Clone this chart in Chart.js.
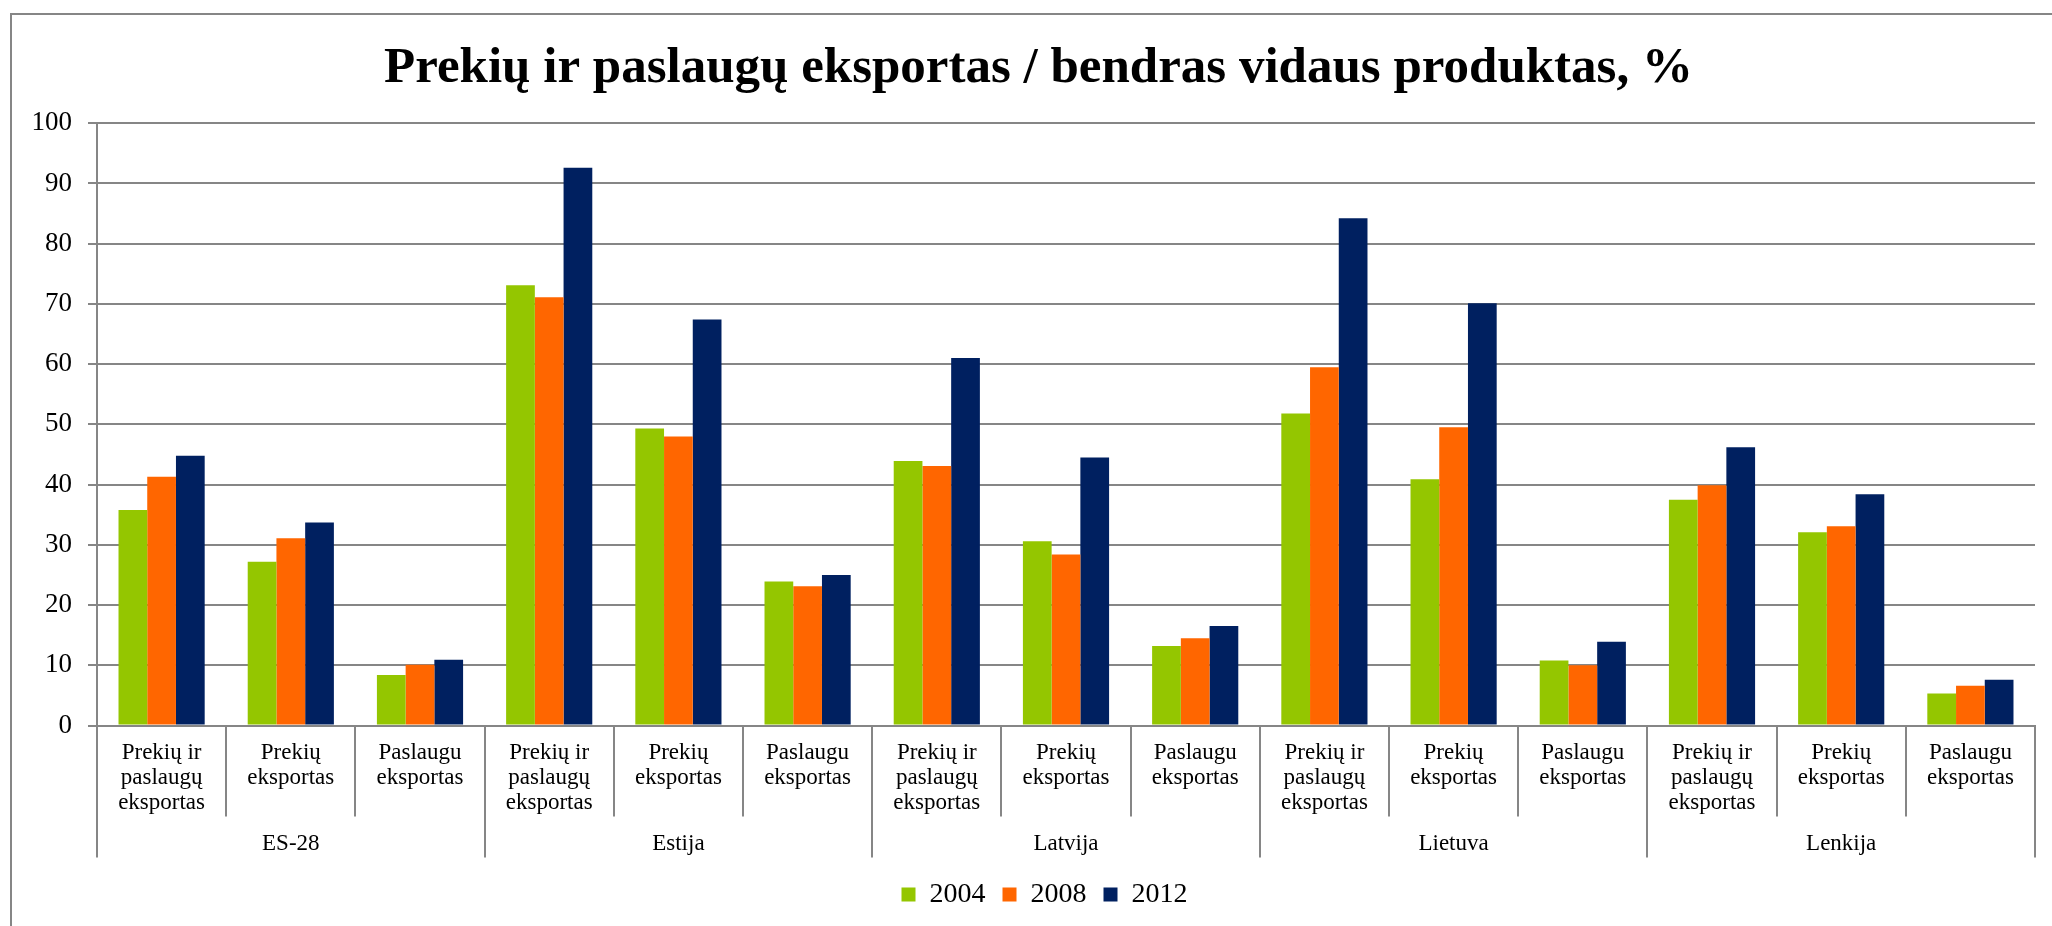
<!DOCTYPE html>
<html>
<head>
<meta charset="utf-8">
<script src="https://cdn.jsdelivr.net/npm/chart.js@4/dist/chart.umd.min.js"></script>
<style>
  html, body { margin: 0; padding: 0; background: #fff; }
  #wrap { position: relative; width: 2052px; height: 926px; }
</style>
</head>
<body>
<div id="wrap"><canvas id="chart"></canvas></div>
<script>
// Duomenys
// ----------------------------------------------------------------------
const groups = ['ES-28', 'Estija', 'Latvija', 'Lietuva', 'Lenkija'];
const subLabels = [
  ['Prekių ir', 'paslaugų', 'eksportas'],
  ['Prekių', 'eksportas'],
  ['Paslaugu', 'eksportas']
];
const years = ['2004', '2008', '2012'];

const v2004 = [35.8, 27.2, 8.4, 73.1, 49.3, 23.9, 43.9, 30.6, 13.2, 51.8, 40.9, 10.8, 37.5, 32.1, 5.3];
const v2008 = [41.3, 31.1, 10.1, 71.1, 48.0, 23.1, 43.1, 28.4, 14.5, 59.5, 49.5, 10.0, 39.9, 33.1, 6.6];
const v2012 = [44.8, 33.7, 10.9, 92.6, 67.4, 25.0, 61.0, 44.5, 16.5, 84.2, 70.1, 13.9, 46.2, 38.4, 7.6];

const yTicks = [0, 10, 20, 30, 40, 50, 60, 70, 80, 90, 100];

const colors = ['#94C600', '#FF6600', '#002060'];
const GRID = '#868686';
const FONT = "'Liberation Serif', 'Times New Roman', serif";

// 15 kategoriju: kiekvienai saliai po 3
const labels = groups.flatMap(() => subLabels);

// Legendos aukstis fiksuotas, kad diagramos plotas liktu vietoje,
// legenda ir antraste truputi pastumtos (kaip originale)
// ----------------------------------------------------------------------
const boxShift = {
  id: 'boxShift',
  beforeInit(chart) {
    const lg = chart.legend;
    if (!lg) return;
    const fit = lg.fit;
    lg.fit = function () {
      fit.call(this);
      this.height = 68.5;
    };
  },
  afterLayout(chart) {
    const lg = chart.legend;
    if (lg) {
      lg.left += 22; lg.right += 22;
      lg.top += 6; lg.bottom += 6;
    }
    const tb = chart.titleBlock;
    if (tb) { tb.left += 16; tb.right += 16; }
  }
};

// Skirtuku linijos po x asimi + remelis
// ----------------------------------------------------------------------
const dividers = {
  id: 'dividers',
  afterDraw(chart) {
    const x = chart.scales.x;
    const x2 = chart.scales.x2;
    const ctx = chart.ctx;
    const n = labels.length;
    ctx.save();
    ctx.strokeStyle = GRID;
    ctx.lineWidth = 2;
    for (let i = 0; i <= n; i++) {
      const px = i === 0 ? x.left : i === n ? x.right
        : (x.getPixelForValue(i - 1) + x.getPixelForValue(i)) / 2;
      const bottom = i % subLabels.length === 0 ? x2.bottom : x.bottom;
      ctx.beginPath();
      ctx.moveTo(Math.round(px), x.top);
      ctx.lineTo(Math.round(px), bottom);
      ctx.stroke();
    }
    // remelis aplink diagrama (matoma tik kaire ir virsus)
    ctx.beginPath();
    ctx.moveTo(11, chart.height);
    ctx.lineTo(11, 14);
    ctx.lineTo(chart.width, 14);
    ctx.stroke();
    ctx.restore();
  }
};

new Chart(document.getElementById('chart'), {
  type: 'bar',
  data: {
    labels,
    datasets: years.map((y, i) => ({
      label: y,
      data: [v2004, v2008, v2012][i],
      backgroundColor: colors[i],
      borderWidth: 0,
      categoryPercentage: 0.667,
      barPercentage: 1.0,
      xAxisID: 'x',
      yAxisID: 'y'
    }))
  },
  options: {
    responsive: true,
    maintainAspectRatio: false,
    animation: false,
    layout: { padding: { left: 10, right: 17, top: 0, bottom: 0 } },
    plugins: {
      tooltip: { enabled: false },
      title: {
        display: true,
        text: 'Prekių ir paslaugų eksportas / bendras vidaus produktas, %',
        color: '#000',
        font: { family: FONT, size: 51, weight: 'bold', lineHeight: 1.2 },
        padding: { top: 38, bottom: 24 }
      },
      legend: {
        position: 'bottom',
        labels: {
          color: '#000',
          font: { family: FONT, size: 28 },
          boxWidth: 14,
          boxHeight: 14,
          padding: 17
        }
      }
    },
    scales: {
      y: {
        min: 0,
        max: 100,
        afterBuildTicks: (s) => { s.ticks = yTicks.map(v => ({ value: v })); },
        afterFit: (s) => { s.width = 87; },
        ticks: { color: '#000', font: { family: FONT, size: 27 }, padding: 16 },
        grid: { color: GRID, lineWidth: 2, tickLength: 9 },
        border: { color: GRID, width: 2 }
      },
      x: {
        offset: true,
        weight: 0,
        afterFit: (s) => { s.height = 91; },
        ticks: {
          color: '#000',
          font: { family: FONT, size: 23, lineHeight: 1.09 },
          padding: 15,
          maxRotation: 0,
          autoSkip: false
        },
        grid: { display: false, drawTicks: false },
        border: { color: GRID, width: 2 }
      },
      x2: {
        type: 'category',
        position: 'bottom',
        labels: groups,
        offset: true,
        weight: 1,
        afterFit: (s) => { s.height = 41; },
        ticks: {
          color: '#000',
          font: { family: FONT, size: 23, lineHeight: 1.09 },
          padding: 15,
          maxRotation: 0
        },
        grid: { display: false, drawTicks: false },
        border: { display: false }
      }
    }
  },
  plugins: [boxShift, dividers]
});
</script>
</body>
</html>
